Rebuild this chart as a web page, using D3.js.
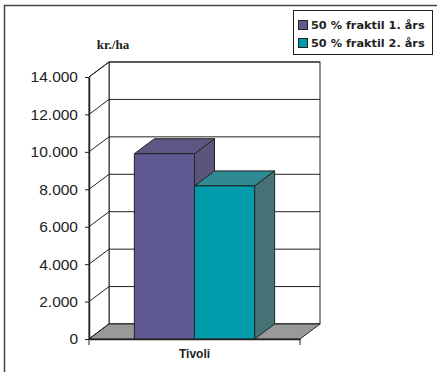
<!DOCTYPE html>
<html>
<head>
<meta charset="utf-8">
<script src="https://cdn.jsdelivr.net/npm/d3@7"></script>
<style>
  body { margin: 0; background: #fff; }
  svg { display: block; }
</style>
</head>
<body>
<svg width="437" height="372"></svg>
<script>
var categories = ['Tivoli'];
var seriesNames = ['50 % fraktil 1. års', '50 % fraktil 2. års'];
var seriesValues = [[9900], [8180]];
var tickValues = [0, 2000, 4000, 6000, 8000, 10000, 12000, 14000];
var unitLabel = 'kr./ha';

var colors = [
  {front: '#5f5a94', top: '#5c5784', side: '#5a5579'},
  {front: '#009cab', top: '#2f8a93', side: '#477275'}
];

var svg = d3.select('svg');

// depth offset of the 3d box
var dx = 20, dy = -15;

var y = d3.scaleLinear().domain([0, 14000]).range([339, 77]);
var x0 = d3.scaleBand().domain(categories).range([89, 300]);
var groupW = x0.bandwidth() * 0.57;
var x1 = d3.scaleBand().domain(d3.range(seriesNames.length)).range([0, groupW]);

var nl = d3.formatLocale({decimal: ',', thousands: '.', grouping: [3], currency: ['', '']});
var fmt = nl.format(',');

// outer frame
svg.append('path')
  .attr('d', 'M4.5,372V5.5H437')
  .attr('fill', 'none')
  .attr('stroke', '#444')
  .attr('stroke-width', 1.5);

var x0L = x0.range()[0], x0R = x0.range()[1];
var yB = y(0), yT = y(14000);

// back wall
svg.append('rect')
  .attr('x', x0L + dx).attr('y', yT + dy)
  .attr('width', x0R - x0L).attr('height', yB - yT)
  .attr('fill', '#fff').attr('stroke', '#222').attr('stroke-width', 1);

// left wall
svg.append('path')
  .attr('d', 'M' + x0L + ',' + yB + 'L' + (x0L + dx) + ',' + (yB + dy) + 'L' + (x0L + dx) + ',' + (yT + dy) + 'L' + x0L + ',' + yT + 'Z')
  .attr('fill', '#fff').attr('stroke', '#222').attr('stroke-width', 1);

// gridlines
var grid = svg.append('g').attr('stroke', '#222').attr('stroke-width', 1).attr('fill', 'none');
tickValues.forEach(function(v) {
  grid.append('path')
    .attr('d', 'M' + x0L + ',' + y(v) + 'L' + (x0L + dx) + ',' + (y(v) + dy) + 'H' + (x0R + dx));
});

// floor
svg.append('path')
  .attr('d', 'M' + x0L + ',' + yB + 'L' + (x0L + dx) + ',' + (yB + dy) + 'H' + (x0R + dx) + 'L' + x0R + ',' + yB + 'Z')
  .attr('fill', '#999').attr('stroke', '#222').attr('stroke-width', 1);

// bars
categories.forEach(function(cat, ci) {
  var gx = x0(cat) + (x0.bandwidth() - groupW) / 2;
  seriesValues.forEach(function(vals, si) {
    var xl = gx + x1(si), xr = xl + x1.bandwidth();
    var yt = y(vals[ci]);
    var c = colors[si];
    var g = svg.append('g').attr('stroke', '#222').attr('stroke-width', 1).attr('stroke-linejoin', 'round');
    g.append('path')
      .attr('d', 'M' + xr + ',' + yt + 'L' + (xr + dx) + ',' + (yt + dy) + 'L' + (xr + dx) + ',' + (yB + dy) + 'L' + xr + ',' + yB + 'Z')
      .attr('fill', c.side);
    g.append('path')
      .attr('d', 'M' + xl + ',' + yt + 'L' + (xl + dx) + ',' + (yt + dy) + 'L' + (xr + dx) + ',' + (yt + dy) + 'L' + xr + ',' + yt + 'Z')
      .attr('fill', c.top);
    g.append('rect')
      .attr('x', xl).attr('y', yt)
      .attr('width', xr - xl).attr('height', yB - yt)
      .attr('fill', c.front);
  });
});

// y axis
var yAxis = svg.append('g')
  .attr('transform', 'translate(' + x0L + ',0)')
  .call(d3.axisLeft(y).tickValues(tickValues).tickFormat(fmt).tickSize(4).tickPadding(7).tickSizeOuter(0));
yAxis.select('.domain').attr('stroke', '#222').attr('stroke-width', 1.5);
yAxis.selectAll('.tick line').attr('stroke', '#222');
yAxis.selectAll('text')
  .attr('fill', '#222')
  .style('font-family', '"Liberation Sans", Arial, sans-serif')
  .style('font-size', '15.5px');

// x axis
var xAxis = svg.append('g')
  .attr('transform', 'translate(0,' + yB + ')')
  .call(d3.axisBottom(x0).tickSize(0).tickPadding(10).tickSizeOuter(0));
xAxis.select('.domain').attr('stroke', '#222').attr('stroke-width', 1.5);
xAxis.selectAll('text')
  .attr('fill', '#222')
  .style('font-family', '"Liberation Sans", Arial, sans-serif')
  .style('font-weight', 'bold')
  .style('font-size', '12px');
[x0L, x0R].forEach(function(px) {
  xAxis.append('line').attr('x1', px).attr('x2', px).attr('y1', 0).attr('y2', 6)
    .attr('stroke', '#222');
});

// unit label
svg.append('text')
  .attr('x', 113).attr('y', 49)
  .attr('text-anchor', 'middle')
  .style('font-family', '"Liberation Serif", "Times New Roman", serif')
  .style('font-weight', 'bold')
  .style('font-size', '13px')
  .attr('fill', '#222')
  .text(unitLabel);

// legend
var legend = svg.append('g');
legend.append('rect')
  .attr('x', 293.5).attr('y', 10.5).attr('width', 139).attr('height', 44)
  .attr('fill', '#fff').attr('stroke', '#222').attr('stroke-width', 1);
seriesNames.forEach(function(name, i) {
  var ly = 25 + i * 18;
  legend.append('rect')
    .attr('x', 298.5).attr('y', ly - 4.5).attr('width', 9).attr('height', 9)
    .attr('fill', colors[i].front).attr('stroke', '#222').attr('stroke-width', 1);
  legend.append('text')
    .attr('x', 311).attr('y', ly).attr('dy', '0.36em')
    .style('font-family', '"DejaVu Sans", Verdana, sans-serif')
    .style('font-weight', 'bold')
    .style('font-size', '11.3px')
    .attr('fill', '#222')
    .text(name);
});
</script>
</body>
</html>
